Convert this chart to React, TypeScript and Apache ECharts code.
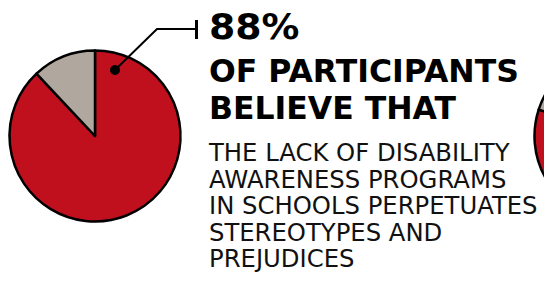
import React, { useEffect, useRef } from "react";
import * as echarts from "echarts";

const categories = ["Believe", "Other"];
const leftPieValues = [88, 12];
const rightPieValues = [80, 20];
const headlineNumber = "88%";
const headlineLines = ["OF PARTICIPANTS", "BELIEVE THAT"];
const bodyLines = [
  "THE LACK OF DISABILITY",
  "AWARENESS PROGRAMS",
  "IN SCHOOLS PERPETUATES",
  "STEREOTYPES AND",
  "PREJUDICES",
];

const RED = "#C0101E";
const GRAY = "#B0A89E";

export default function App() {
  const ref = useRef<HTMLDivElement>(null);
  useEffect(() => {
    if (!ref.current) return;
    const chart = echarts.init(ref.current, null, { renderer: "svg" });
    const pieData = (vals: number[]) =>
      vals.map((v, i) => ({
        name: categories[i],
        value: v,
        itemStyle: { color: i === 0 ? RED : GRAY },
      }));
    const pieCommon = {
      type: "pie",
      radius: 85.5,
      startAngle: 90,
      clockwise: true,
      label: { show: false },
      labelLine: { show: false },
      emphasis: { disabled: true },
      silent: true,
      itemStyle: { borderColor: "#000", borderWidth: 2.5 },
    };
    const headY = [71, 108];
    chart.setOption({
      animation: false,
      backgroundColor: "#fff",
      series: [
        { ...pieCommon, center: [95, 136], data: pieData(leftPieValues) },
        { ...pieCommon, center: [620, 136], data: pieData(rightPieValues) },
      ],
      graphic: [
        {
          type: "polyline",
          shape: { points: [[115, 70], [157, 29], [196, 29]] },
          style: { stroke: "#000", lineWidth: 2, fill: null },
          z: 10,
        },
        {
          type: "line",
          shape: { x1: 196.5, y1: 20, x2: 196.5, y2: 39 },
          style: { stroke: "#000", lineWidth: 3 },
          z: 10,
        },
        {
          type: "circle",
          shape: { cx: 115, cy: 70, r: 5 },
          style: { fill: "#000" },
          z: 10,
        },
        {
          type: "text",
          x: 209,
          y: 27,
          scaleX: 1.05,
          style: {
            text: headlineNumber,
            font: "bold 36px 'DejaVu Sans'",
            fill: "#000",
            verticalAlign: "middle",
            align: "left",
            lineHeight: 34,
          },
        },
        ...headlineLines.map((t, i) => ({
          type: "text",
          x: 209,
          y: headY[i],
          style: {
            text: t,
            font: "bold 31.5px 'DejaVu Sans'",
            fill: "#000",
            verticalAlign: "middle",
            align: "left",
            lineHeight: 34,
          },
        })),
        {
          type: "text",
          x: 209,
          y: 139.25,
          style: {
            text: bodyLines.join("\n"),
            font: "24.3px 'DejaVu Sans'",
            fill: "#111",
            verticalAlign: "top",
            align: "left",
            lineHeight: 26.5,
          },
        },
      ],
    });
    return () => chart.dispose();
  }, []);
  return (
    <div
      ref={ref}
      style={{ position: "absolute", left: 0, top: 0, width: 544, height: 284 }}
    />
  );
}
